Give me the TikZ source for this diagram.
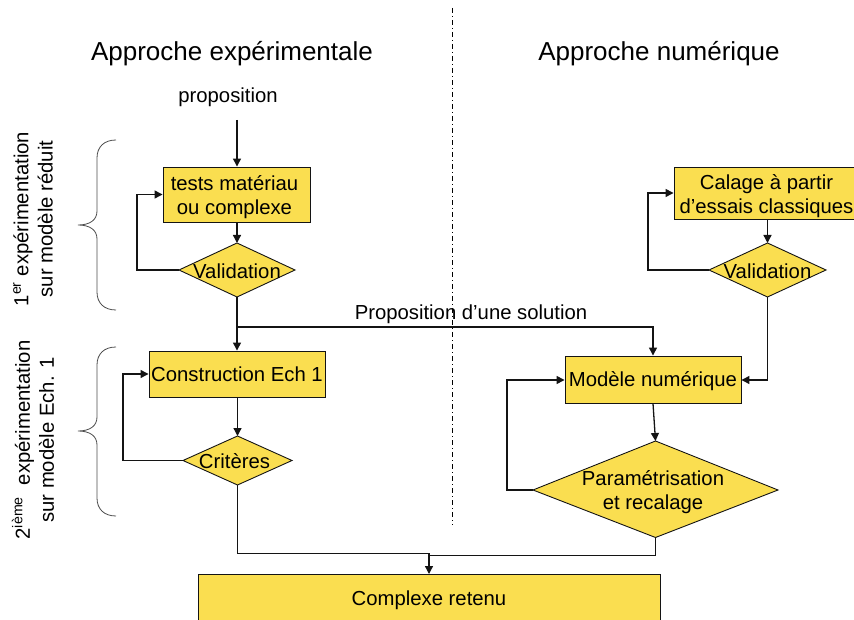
\documentclass[tikz,border=0pt]{standalone}
\usepackage{fontspec}
\setmainfont{Liberation Sans}
\usetikzlibrary{arrows.meta}
\definecolor{boxfill}{RGB}{250,222,80}
\definecolor{ink}{RGB}{20,20,20}
\tikzset{
  x=1pt,y=-1pt,
  flow/.style={draw=ink,line width=1.3pt},
  arrow/.style={flow,-{Triangle[length=8pt,width=8pt]}},
  boxshape/.style={draw=ink,line width=0.9pt,fill=boxfill},
  label/.style={font=\fontsize{20.3}{24.2}\selectfont,text=black,align=center,inner sep=0pt},
  title/.style={font=\fontsize{26}{30}\selectfont,text=black,inner sep=0pt},
  brace/.style={draw=black!70,line width=0.8pt},
}
\newcommand{\bracemark}[3]{% tip y, top y, bottom y
  \draw[brace] (116,#2) .. controls (104,#2) and (97,#2+7) .. (97,#2+18) -- (97,#1-14)
    .. controls (97,#1-5) and (90,#1) .. (78,#1)
    .. controls (90,#1) and (97,#1+5) .. (97,#1+14) -- (97,#3-18)
    .. controls (97,#3-7) and (104,#3) .. (116,#3);
}
\begin{document}
\begin{tikzpicture}
\useasboundingbox (0,0) rectangle (854,620);
\clip (0,0) rectangle (854,620);
\draw[black,line width=0.7pt,dash pattern=on 5pt off 3pt on 1pt off 3pt] (452,8) -- (452,525);

\node[title] (t1) at (232,53.5) {Approche expérimentale};
\node[title] (t2) at (659,53.5) {Approche numérique};
\node[label] (prop) at (228,97.5) {proposition};
\coordinate (propdown) at (237,120);

\node[boxshape,minimum width=147pt,minimum height=55pt] (tests) at (236.5,194.5) {};
\node[label] (testst) at (234.5,197) {tests matériau\\ou complexe};
\node[boxshape,label,minimum width=176pt,minimum height=46pt] (constr) at (237,374) {Construction Ech 1};
\node[boxshape,minimum width=186pt,minimum height=52pt] (calage) at (767,193) {};
\node[label] (calaget) at (766.5,196) {Calage à partir\\d’essais classiques};
\node[boxshape,minimum width=176pt,minimum height=47pt] (modele) at (653,379.5) {};
\node[label] (modelet) at (653,381.5) {Modèle numérique};
\node[boxshape,label,minimum width=462pt,minimum height=52pt,anchor=north] (complexe) at (429,574) {Complexe retenu};

\coordinate (v1n) at (237,243); \coordinate (v1e) at (295,270); \coordinate (v1s) at (237,297); \coordinate (v1w) at (179,270);
\coordinate (v2n) at (767.5,243); \coordinate (v2e) at (826,270); \coordinate (v2s) at (767.5,297); \coordinate (v2w) at (709,270);
\coordinate (crn) at (237.5,436); \coordinate (cre) at (292,460.5); \coordinate (crs) at (237.5,485); \coordinate (crw) at (183,460.5);
\coordinate (pan) at (655.5,441); \coordinate (pae) at (778,490); \coordinate (pas) at (655.5,537.5); \coordinate (paw) at (533,490);
\draw[boxshape] (v1n)--(v1e)--(v1s)--(v1w)--cycle;
\draw[boxshape] (v2n)--(v2e)--(v2s)--(v2w)--cycle;
\draw[boxshape] (crn)--(cre)--(crs)--(crw)--cycle;
\draw[boxshape] (pan)--(pae)--(pas)--(paw)--cycle;
\node[label] (v1t) at (237,271) {Validation};
\node[label] (v2t) at (767.5,271) {Validation};
\node[label] (crt) at (234.5,461) {Critères};
\node[label] (pat) at (653,492) {Paramétrisation\\et recalage};

\draw[arrow] (propdown) -- (tests.north -| propdown);
\draw[arrow] (tests.south -| v1n) -- (v1n);
\draw[arrow] (v1w) -- (137,270) -- (137,194.5) -- (tests.west);
\draw[arrow] (v1s) -- (constr.north -| v1s);
\coordinate (branch) at (237,327);
\draw[arrow] (branch) -- (653,327) -- (modele.north);
\node[label] (sol) at (471,314) {Proposition d’une solution};

\draw[arrow] (constr.south -| crn) -- (crn);
\draw[arrow] (crw) -- (123,460.5) -- (123,374) -- (constr.west);

\draw[arrow] (calage.south -| v2n) -- (v2n);
\draw[arrow] (v2w) -- (648,270) -- (648,193) -- (calage.west);
\draw[arrow] (v2s) -- (767.5,380) -- (modele.east |- 0,380);

\draw[arrow] (modele.south) -- (pan);
\draw[arrow] (paw) -- (507,490) -- (507,380) -- (modele.west |- 0,380);

\coordinate (merge) at (429,554);
\draw[flow] (crs) -- (237.5,553.7) -- (429,553.7) -- (merge);
\draw[flow] (pas) -- (655.5,555.7) -- (429,555.7) -- (merge);
\draw[arrow] (merge) -- (complexe.north);

\bracemark{225}{140}{310}
\bracemark{431}{347}{516}

\node[label,rotate=90] (e1) at (33,219) {1\textsuperscript{er} expérimentation\\sur modèle réduit};
\node[label,rotate=90] (e2) at (33,440) {2\textsuperscript{ième}\hspace{6pt} expérimentation\\sur modèle Ech. 1};
\end{tikzpicture}
\end{document}
